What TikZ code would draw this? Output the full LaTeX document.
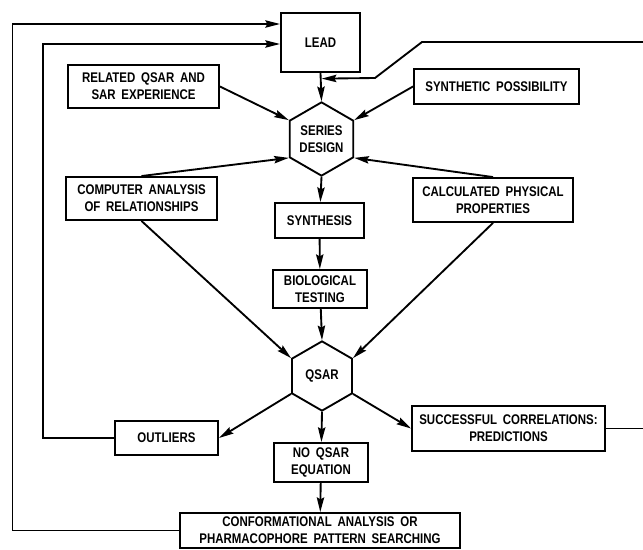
\documentclass[tikz,border=0pt]{standalone}
\usepackage{fontspec}
\newfontfamily\chartfont{Liberation Sans}[FakeStretch=0.82,WordSpace=1.8]
\usetikzlibrary{arrows.meta,shapes.geometric,calc}

\begin{document}
\begin{tikzpicture}[
            x=0.75pt, y=-0.75pt,
            line width=1.4pt,
            box/.style={rectangle, draw, align=center, inner sep=0pt, font=\chartfont\bfseries\fontsize{10.5}{12.5}\selectfont},
            hexa/.style={regular polygon, regular polygon sides=6, regular polygon rotate=30, draw, align=center, inner sep=0pt, font=\chartfont\bfseries\fontsize{10.5}{12.5}\selectfont},
            flow/.style={-{Stealth[length=11pt,width=5.5pt,inset=1.5pt]}},
        ]
            \useasboundingbox (0,0) rectangle (643,550);
            % boxes
            \node(lead) at (320.5,42.5) [box, minimum width=59.3pt, minimum height=44.3pt] {LEAD};
            \node(related) at (143.5,86.5) [box, minimum width=113.3pt, minimum height=32.3pt] {RELATED QSAR AND\\SAR EXPERIENCE};
            \node(synthetic) at (496.5,86.5) [box, minimum width=123.8pt, minimum height=26.3pt] {SYNTHETIC POSSIBILITY};
            \node(series) at (321.5,139) [hexa, minimum size=55pt] {SERIES\\DESIGN};
            \node(computer) at (141.5,198.5) [box, minimum width=113.3pt, minimum height=32.3pt] {COMPUTER ANALYSIS\\OF RELATIONSHIPS};
            \node(calculated) at (493,200) [box, minimum width=120pt, minimum height=33pt] {CALCULATED PHYSICAL\\PROPERTIES};
            \node(synthesis) at (319.5,220.5) [box, minimum width=66.8pt, minimum height=26.3pt] {SYNTHESIS};
            \node(biological) at (320,289) [box, minimum width=70.5pt, minimum height=28.5pt] {BIOLOGICAL\\TESTING};
            \node(qsar) at (322,376) [hexa, minimum size=52pt] {QSAR};
            \node(outliers) at (166.5,438) [box, minimum width=77.3pt, minimum height=25.5pt] {OUTLIERS};
            \node(noqsar) at (321,462.5) [box, minimum width=70.5pt, minimum height=29.3pt] {NO QSAR\\EQUATION};
            \node(successful) at (508.5,428.5) [box, minimum width=144.8pt, minimum height=33.8pt] {SUCCESSFUL CORRELATIONS:\\PREDICTIONS};
            \node(conform) at (320,530.5) [box, minimum width=210pt, minimum height=26.3pt] {CONFORMATIONAL ANALYSIS OR\\PHARMACOPHORE PATTERN SEARCHING};
            % into series design
            \draw[flow] (lead.south) -- (series.north);
            \draw[flow] (related.east) -- (series.150);
            \draw[flow] (synthetic.west) -- (series.30);
            \draw[flow] (computer.north) -- (series.210);
            \draw[flow] (calculated.north) -- (series.330);
            % down the middle
            \draw[flow] (series.south) -- (synthesis);
            \draw[flow] (synthesis) -- (biological);
            \draw[flow] (biological) -- (qsar.north);
            \draw[flow] (computer.south) -- (qsar.150);
            \draw[flow] (calculated.south) -- (qsar.30);
            \draw[flow] (qsar.210) -- (outliers.east);
            \draw[flow] (qsar.south) -- (noqsar);
            \draw[flow] (qsar.330) -- (successful.west);
            \draw[flow] (noqsar) -- (conform);
            % feedback loops
            \coordinate (outerturn) at (12.5,24);
            \coordinate (innerturn) at (43,44);
            \draw[flow] (conform.west) -| (outerturn) -- (outerturn -| lead.west);
            \draw[flow] (outliers.west) -| (innerturn) -- (innerturn -| lead.west);
            \coordinate (rightedge) at (643,42);
            \coordinate (topcorner) at (422,42);
            \coordinate (bend) at (375,78);
            \coordinate (joint) at ($(lead.south)!0.2!(series.north)+(1,0)$);
            \draw[flow] (rightedge) -- (topcorner) -- (bend) -- (joint);
            \draw (successful.east) -- (successful.east -| rightedge);
        \end{tikzpicture}
\end{document}
